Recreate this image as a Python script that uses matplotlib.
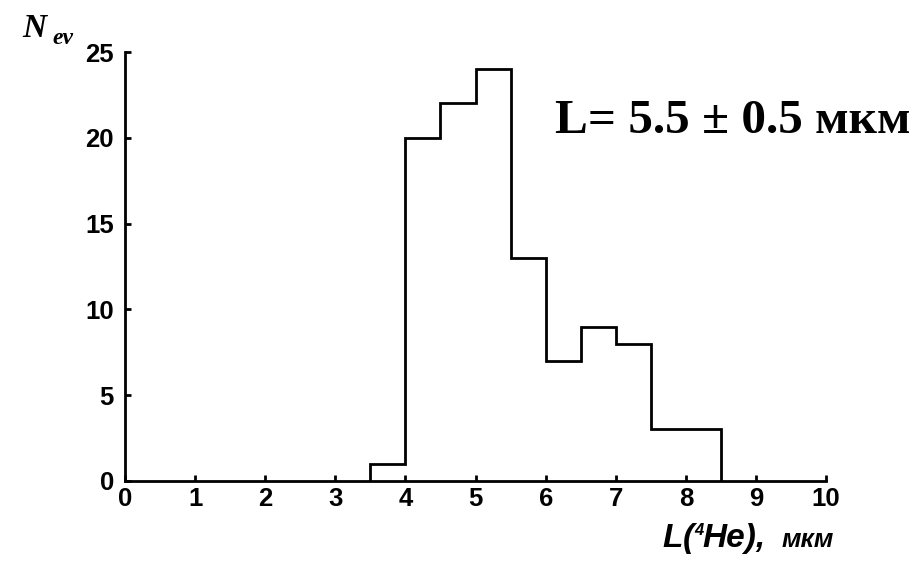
import matplotlib
matplotlib.use("Agg")
import matplotlib.pyplot as plt
import numpy as np

bin_edges = [3.5, 4.0, 4.5, 5.0, 5.5, 6.0, 6.5, 7.0, 7.5, 8.0, 8.5]
counts = [1, 20, 22, 24, 13, 7, 9, 8, 3, 3]
xticks = [0, 1, 2, 3, 4, 5, 6, 7, 8, 9, 10]
yticks = [0, 5, 10, 15, 20, 25]

W, H = 923, 563
fig = plt.figure(figsize=(W / 100, H / 100), dpi=100)
ax = fig.add_axes([0.1354, 0.1457, 0.895 - 0.1354, 0.9076 - 0.1457])

ax.stairs(counts, bin_edges, color="black", linewidth=2)

ax.set_xlim(0, 10)
ax.set_ylim(0, 25)
ax.set_xticks(xticks)
ax.set_yticks(yticks)
for s in ["top", "right"]:
    ax.spines[s].set_visible(False)
for s in ["left", "bottom"]:
    ax.spines[s].set_linewidth(2)
ax.tick_params(direction="in", length=4, width=2, labelsize=18.5)
ax.tick_params(axis="x", pad=4)
ax.tick_params(axis="y", pad=8)
for lab in ax.get_xticklabels() + ax.get_yticklabels():
    lab.set_fontfamily("Liberation Sans")
    lab.set_fontweight("bold")

def px(x, y):
    return x / W, 1 - y / H

# x axis label built from pieces
fs = dict(fontfamily="Liberation Sans", fontweight="bold", fontstyle="italic",
          ha="left", va="baseline")
fig.text(*px(662, 547), "L", fontsize=24, **fs)
fig.text(*px(683, 547), "(", fontsize=24, **fs)
fig.text(*px(694, 535), "4", fontsize=12, **fs)
fig.text(*px(702, 547), "He),", fontsize=24, **fs)
fig.text(*px(782, 547), "мкм", fontsize=19, **fs)

# y axis label
fig.text(*px(22, 37), "N", fontfamily="Liberation Serif", fontweight="bold",
         fontstyle="italic", fontsize=24, ha="left", va="baseline")
fig.text(*px(52, 44), "ev", fontfamily="Liberation Serif", fontweight="bold",
         fontstyle="italic", fontsize=17, ha="left", va="baseline")

fig.text(*px(555, 133), "L= 5.5 ± 0.5 мкм", fontfamily="Liberation Serif",
         fontweight="bold", fontsize=35.5, ha="left", va="baseline")

fig.savefig("out.png", dpi=100)
